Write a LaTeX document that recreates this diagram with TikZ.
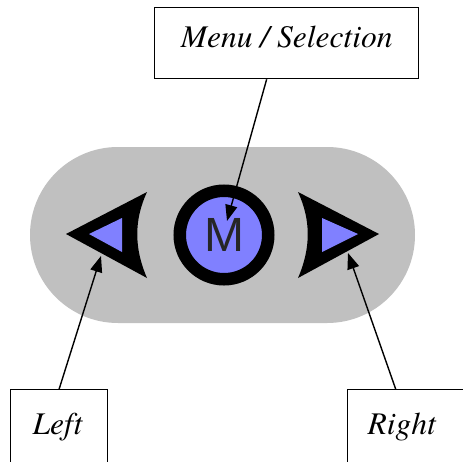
\documentclass[tikz,border=0pt]{standalone}
\usepackage{fontspec}
\newfontfamily\lblfont{texgyretermes}[Extension=.otf, UprightFont=*-regular, ItalicFont=*-italic]
\newfontfamily\padfont{Liberation Sans}
\usetikzlibrary{arrows.meta}
\definecolor{padgray}{HTML}{C0C0C0}
\definecolor{padblue}{HTML}{8080FF}
\tikzstyle{lbl}=[draw, line width=1.3pt, inner sep=0pt, anchor=north west, font=\lblfont\itshape\fontsize{31.5}{36}\selectfont]
\tikzstyle{btn}=[circle, draw=black, line width=12.5pt, fill=padblue, inner sep=0pt, minimum size=88.5pt, text=black!85, font=\padfont\fontsize{48}{50}\selectfont]

\begin{document}
\begin{tikzpicture}[x=1pt,y=-1pt,>={Triangle[length=16pt,width=12pt]}]
\clip (0,0) rectangle (463,461);
\fill[white] (0,0) rectangle (463,461);
\fill[padgray, rounded corners=88pt] (30,147) rectangle (415,323);
\fill (66,234) -- (147,192) .. controls (134,220) and (134,248) .. (147,278) -- cycle;
\fill[padblue] (89,234) -- (122,218) -- (122,252) -- cycle;
\fill (379,234) -- (298,192) .. controls (311,220) and (311,248) .. (298,278) -- cycle;
\fill[padblue] (358,234) -- (322,218) -- (322,252) -- cycle;
\node [btn] (m) at (224,235) {M};
\node [lbl, minimum width=264pt, text height=40pt, text depth=31pt] (menu) at (154,7) {Menu / Selection};
\node [lbl, text width=53pt, inner xsep=22pt, align=left, text height=45pt, text depth=60pt] (left) at (10,389) {Left};
\node [lbl, text width=100pt, inner xsep=20pt, align=left, text height=45pt, text depth=60pt] (right) at (347,389) {Right};
\coordinate (mtip) at (227,221);
\coordinate (ltip) at (101,256);
\coordinate (rtip) at (348,253);
\draw[->, line width=1.4pt] ([xshift=-20pt]menu.south) -- (mtip);
\draw[->, line width=1.4pt] (left.north) -- (ltip);
\draw[->, line width=1.4pt] ([xshift=-22pt]right.north) -- (rtip);
\end{tikzpicture}
\end{document}
